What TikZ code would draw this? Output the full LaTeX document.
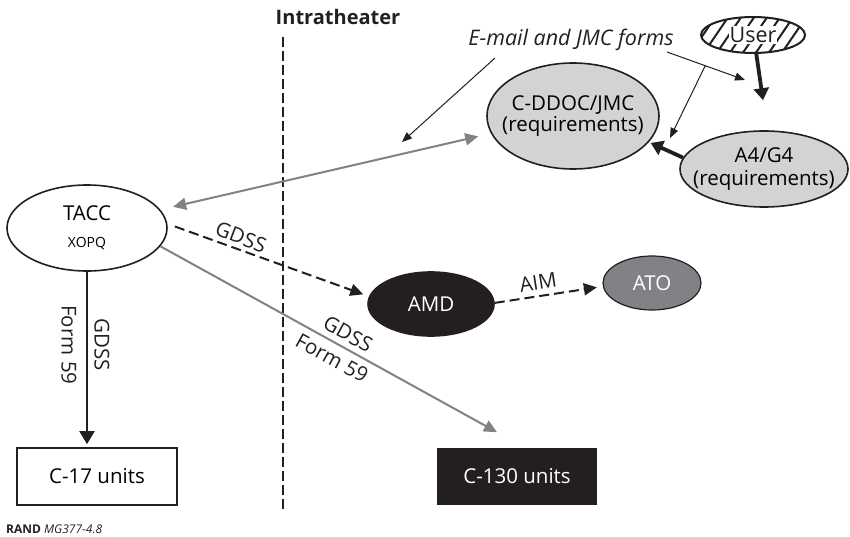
\documentclass[tikz,border=0pt]{standalone}
\usepackage{fontspec}
\setmainfont{Open Sans}
\usetikzlibrary{shapes.geometric,arrows.meta,calc}
\definecolor{rgray}{HTML}{808285}
\definecolor{lgray}{HTML}{D1D3D4}
\definecolor{rblack}{HTML}{231F20}
\begin{document}
\begin{tikzpicture}[x=1pt,y=-1pt,
  font=\fontsize{20.5}{22}\selectfont,
  ell/.style={ellipse, draw=rblack, line width=1.6pt, inner sep=0pt},
  boxnode/.style={rectangle, draw=rblack, line width=1.6pt, inner sep=0pt},
  lbl/.style={inner sep=0pt, text=rblack},
  blackarrow/.style={draw=rblack, line width=2pt, -{Triangle[length=13pt,width=15pt]}},
  grayarrow/.style={draw=rgray, line width=2pt, -{Triangle[length=13pt,width=12pt]}},
  grayboth/.style={draw=rgray, line width=2pt, {Triangle[length=13pt,width=12pt]}-{Triangle[length=13pt,width=12pt]}},
  dasharrow/.style={draw=rblack, line width=2pt, dash pattern=on 10pt off 5pt, -{Triangle[length=13pt,width=12pt]}},
  thickarrow/.style={draw=rblack, line width=3.8pt, -{Triangle[length=12pt,width=15pt]}},
  thinarrow/.style={draw=rblack, line width=1pt, -{Triangle[length=10pt,width=8pt]}},
  divider/.style={draw=rblack, line width=2.2pt, dash pattern=on 10pt off 4pt}
]
\useasboundingbox (0,0) rectangle (850,537);

% divider
\coordinate (dtop) at (283,37);
\coordinate (dbot) at (283,509);
\draw[divider] (dtop) -- (dbot);
\node[lbl, font=\fontsize{20}{22}\selectfont\bfseries] (intra) at (338,17) {Intratheater};

% nodes
\node[ell, fill=white, minimum width=160pt, minimum height=86pt,
  label={[align=center, font=\fontsize{20.5}{27}\selectfont]center:TACC\\{\fontsize{14}{14}\selectfont XOPQ}}] (tacc) at (87,228) {};
\node[ell, fill=lgray, minimum width=172pt, minimum height=106pt,
  label={[align=center, font=\fontsize{20.5}{21}\selectfont]center:C-DDOC/JMC\\(requirements)}] (cddoc) at (573,116) {};
\node[ell, fill=lgray, minimum width=168pt, minimum height=76pt,
  label={[align=center, font=\fontsize{20.5}{23}\selectfont]center:A4/G4\\(requirements)}] (a4) at (764,169) {};
\node[ell, fill=rblack, minimum width=126pt, minimum height=64pt,
  label={[text=white]center:AMD}] (amd) at (431,304) {};
\node[ell, line width=1.2pt, fill=rgray, minimum width=98pt, minimum height=54pt,
  label={[text=white]center:ATO}] (ato) at (652,283) {};
\node[boxnode, fill=white, minimum width=160pt, minimum height=57pt] (c17) at (97,476.5) {C-17 units};
\node[boxnode, fill=rblack, draw=rblack, text=white, minimum width=158pt, minimum height=55pt] (c130) at (517,476.5) {C-130 units};

% user (hatched)
\node[ellipse, fill=white, minimum width=104pt, minimum height=36pt, inner sep=0pt] (user) at (753,35) {};
\begin{scope}
  \clip (user.center) ellipse [x radius=52pt, y radius=18pt];
  \foreach \i in {-78,-65,...,60}
    \draw[rblack, line width=2pt] ($(user.center)+(\i,22)$) -- ++(30,-44);
\end{scope}
\node[lbl, fill=white, inner sep=1pt, font=\fontsize{21.5}{22}\selectfont] (usertext) at (user.center) {User};
\draw[rblack, line width=2pt] (user.center) ellipse [x radius=52pt, y radius=18pt];

% e-mail annotation
\node[lbl, font=\fontsize{21.5}{22}\selectfont\itshape] (email) at (571,40) {E-mail and JMC forms};
\coordinate (e1) at (495,58);
\coordinate (e1t) at (402,142);
\coordinate (e2) at (667,52);
\coordinate (e2t) at (745,80);
\coordinate (e3t) at (670,138);
\draw[thinarrow] (e1) -- (e1t);
\draw[thinarrow] (e2) -- (e2t);
\draw[thinarrow] ($(e2)!0.49!(e2t)$) -- (e3t);

% connectors
\draw[blackarrow, shorten >=3pt] (tacc.south) -- (tacc.south |- c17.north);
\node[lbl, rotate=-90] (g1) at (102,345) {GDSS};
\node[lbl, rotate=-90] (f1) at (69,345) {Form 59};

\draw[grayarrow] (tacc.-14) -- ($(c130.north)+(-20,-16)$);
\node[lbl, rotate=-29] (g2) at (348,334) {GDSS};
\node[lbl, rotate=-29] (f2) at (332,358) {Form 59};

\draw[dasharrow, shorten <=8pt, shorten >=6pt] (tacc.3) -- (amd.173);
\node[lbl, rotate=-21] (g3) at (241,237) {GDSS};

\draw[dasharrow, shorten >=6pt] (amd.1) -- (ato.184);
\node[lbl, rotate=9] (aim) at (538,282) {AIM};

\draw[grayboth, shorten <=13pt, shorten >=13pt] (cddoc.192) -- (tacc.14);

\draw[thickarrow, shorten >=2pt] (a4.172) -- (cddoc.-19);
\draw[thickarrow] (user.-80) -- ($(a4.north)+(-1,-30)$);

% credit
\node[lbl, anchor=west, font=\fontsize{12}{14}\selectfont] (rand) at (6,529) {\textbf{RAND} \textit{MG377-4.8}};
\end{tikzpicture}
\end{document}
